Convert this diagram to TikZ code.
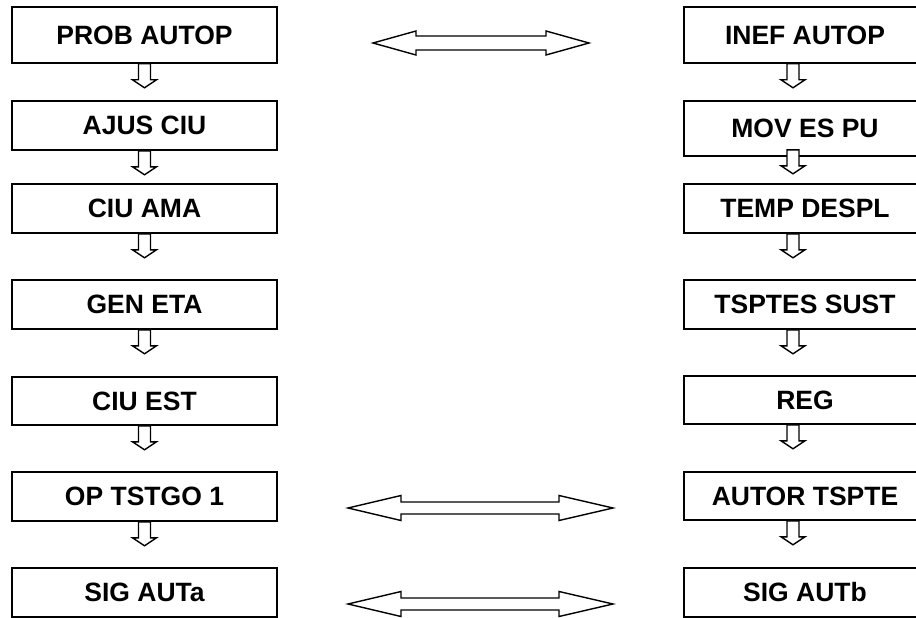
\documentclass[tikz,border=0pt]{standalone}
\usepackage{fontspec}
\setmainfont{Liberation Sans}
\usetikzlibrary{calc}
\tikzset{
  box/.style={draw=black, line width=1.6pt, fill=white, rectangle, inner sep=0pt,
    font=\fontsize{26.5}{31}\selectfont\bfseries},
  lbox/.style={box, minimum width=265pt},
  rbox/.style={box, minimum width=242pt},
  blockarrow/.style={draw=black, fill=white, line width=1.4pt, line join=miter},
}
\newcommand\downblock[1]{\draw[blockarrow] #1 ++(-6,0) -- ++(0,16) -- ++(-6,0) -- ++(12,8) -- ++(12,-8) -- ++(-6,0) -- ++(0,-16) -- cycle;}
\begin{document}
\begin{tikzpicture}[x=1pt,y=-1pt]
\useasboundingbox (0,0) rectangle (916,618);
\clip (0,0) rectangle (916,618);
% left column
\node[lbox, minimum height=56pt] (L1) at (144.5,35) {PROB AUTOP};
\node[lbox, minimum height=49pt] (L2) at (144.5,125.5) {AJUS CIU};
\node[lbox, minimum height=49pt] (L3) at (144.5,208.5) {CIU AMA};
\node[lbox, minimum height=49pt] (L4) at (144.5,304.5) {GEN ETA};
\node[lbox, minimum height=48pt] (L5) at (144.5,401) {CIU EST};
\node[lbox, minimum height=49pt] (L6) at (144.5,496.5) {OP TSTGO 1};
\node[lbox, minimum height=49pt] (L7) at (144.5,592.5) {SIG AUTa};
% right column
\node[rbox, minimum height=56pt] (R1) at (805,35) {INEF AUTOP};
\node[rbox, minimum height=55pt] (R2) at (805,128.5) {MOV ES PU};
\node[rbox, minimum height=49pt] (R3) at (805,208.5) {TEMP DESPL};
\node[rbox, minimum height=49pt] (R4) at (805,304.5) {TSPTES SUST};
\node[rbox, minimum height=48pt] (R5) at (805,400) {REG};
\node[rbox, minimum height=48pt] (R6) at (805,496) {AUTOR TSPTE};
\node[rbox, minimum height=49pt] (R7) at (805,592.5) {SIG AUTb};
% down block arrows, left
\downblock{(L1.south)}
\downblock{(L2.south)}
\downblock{(L3.south)}
\downblock{(L4.south)}
\downblock{(L5.south)}
\downblock{(L6.south)}
% down block arrows, right
\downblock{([xshift=-12pt]R1.south)}
\downblock{([xshift=-12pt,yshift=7pt]R2.south)}
\downblock{([xshift=-12pt]R3.south)}
\downblock{([xshift=-12pt]R4.south)}
\downblock{([xshift=-12pt]R5.south)}
\downblock{([xshift=-12pt]R6.south)}
% horizontal double block arrows
\coordinate (A1) at (373,43);
\coordinate (B1) at (589,43);
\draw[blockarrow] (A1) -- ++(43,-12) -- ++(0,5) -- ($(B1)+(-43,-7)$) -- ++(0,-5) -- (B1) -- ++(-43,12) -- ++(0,-5) -- ($(A1)+(43,7)$) -- ++(0,5) -- cycle;
\coordinate (A2) at (348,508);
\coordinate (B2) at (613,508);
\draw[blockarrow] (A2) -- ++(53,-12.5) -- ++(0,6.5) -- ($(B2)+(-54,-6)$) -- ++(0,-6.5) -- (B2) -- ++(-54,12.5) -- ++(0,-6.5) -- ($(A2)+(53,6)$) -- ++(0,6.5) -- cycle;
\coordinate (A3) at (348,604);
\coordinate (B3) at (613,604);
\draw[blockarrow] (A3) -- ++(53,-12.5) -- ++(0,6.5) -- ($(B3)+(-54,-6)$) -- ++(0,-6.5) -- (B3) -- ++(-54,12.5) -- ++(0,-6.5) -- ($(A3)+(53,6)$) -- ++(0,6.5) -- cycle;
\end{tikzpicture}
\end{document}
